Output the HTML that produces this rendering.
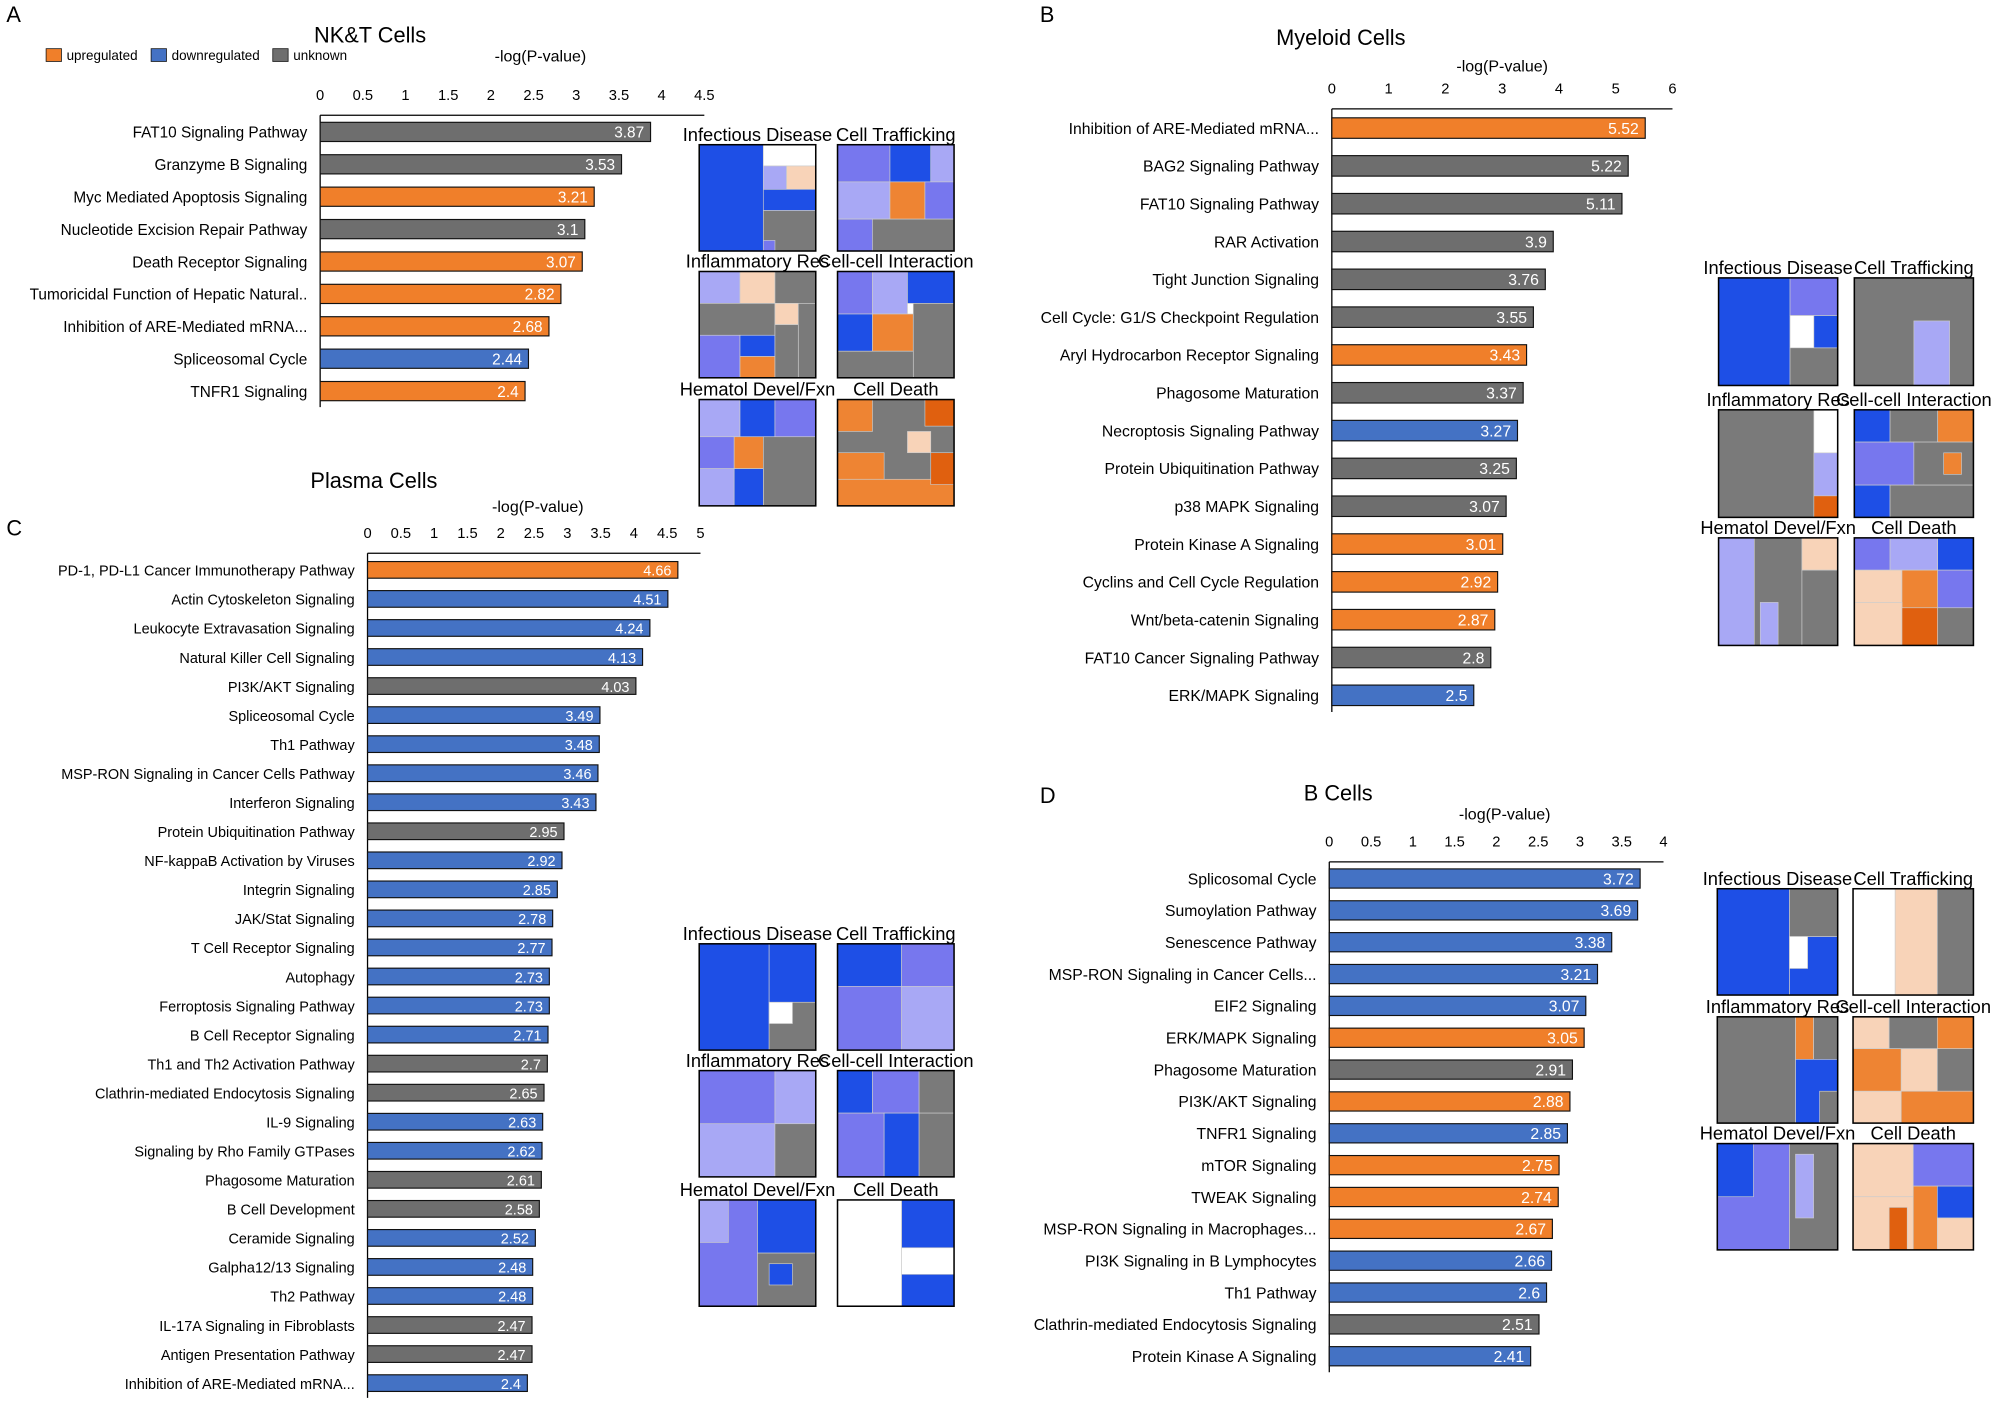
<!DOCTYPE html>
<html><head><meta charset="utf-8"><style>
html,body{margin:0;padding:0;background:#fff;}
svg{display:block;font-family:"Liberation Sans",sans-serif;}
</style></head><body>
<svg id="fig" width="2008" height="1401" viewBox="0 0 1568 1094"></svg>
<script>
// ---------- Data ----------
const aLabels=["FAT10 Signaling Pathway","Granzyme B Signaling","Myc Mediated Apoptosis Signaling","Nucleotide Excision Repair Pathway","Death Receptor Signaling","Tumoricidal Function of Hepatic Natural..","Inhibition of ARE-Mediated mRNA...","Spliceosomal Cycle","TNFR1 Signaling"];
const aValues=[3.87,3.53,3.21,3.1,3.07,2.82,2.68,2.44,2.4];
const aTypes=["n","n","u","n","u","u","u","d","u"];
const aTicks=[0,0.5,1,1.5,2,2.5,3,3.5,4,4.5];

const bLabels=["Inhibition of ARE-Mediated mRNA...","BAG2 Signaling Pathway","FAT10 Signaling Pathway","RAR Activation","Tight Junction Signaling","Cell Cycle: G1/S Checkpoint Regulation","Aryl Hydrocarbon Receptor Signaling","Phagosome Maturation","Necroptosis Signaling Pathway","Protein Ubiquitination Pathway","p38 MAPK Signaling","Protein Kinase A Signaling","Cyclins and Cell Cycle Regulation","Wnt/beta-catenin Signaling","FAT10 Cancer Signaling Pathway","ERK/MAPK Signaling"];
const bValues=[5.52,5.22,5.11,3.9,3.76,3.55,3.43,3.37,3.27,3.25,3.07,3.01,2.92,2.87,2.8,2.5];
const bTypes=["u","n","n","n","n","n","u","n","d","n","n","u","u","u","n","d"];
const bTicks=[0,1,2,3,4,5,6];

const cLabels=["PD-1, PD-L1 Cancer Immunotherapy Pathway","Actin Cytoskeleton Signaling","Leukocyte Extravasation Signaling","Natural Killer Cell Signaling","PI3K/AKT Signaling","Spliceosomal Cycle","Th1 Pathway","MSP-RON Signaling in Cancer Cells Pathway","Interferon Signaling","Protein Ubiquitination Pathway","NF-kappaB Activation by Viruses","Integrin Signaling","JAK/Stat Signaling","T Cell Receptor Signaling","Autophagy","Ferroptosis Signaling Pathway","B Cell Receptor Signaling","Th1 and Th2 Activation Pathway","Clathrin-mediated Endocytosis Signaling","IL-9 Signaling","Signaling by Rho Family GTPases","Phagosome Maturation","B Cell Development","Ceramide Signaling","Galpha12/13 Signaling","Th2 Pathway","IL-17A Signaling in Fibroblasts","Antigen Presentation Pathway","Inhibition of ARE-Mediated mRNA..."];
const cValues=[4.66,4.51,4.24,4.13,4.03,3.49,3.48,3.46,3.43,2.95,2.92,2.85,2.78,2.77,2.73,2.73,2.71,2.7,2.65,2.63,2.62,2.61,2.58,2.52,2.48,2.48,2.47,2.47,2.4];
const cTypes=["u","d","d","d","n","d","d","d","d","n","d","d","d","d","d","d","d","n","n","d","d","n","n","d","d","d","n","n","d"];
const cTicks=[0,0.5,1,1.5,2,2.5,3,3.5,4,4.5,5];

const dLabels=["Splicosomal Cycle","Sumoylation Pathway","Senescence Pathway","MSP-RON Signaling in Cancer Cells...","EIF2 Signaling","ERK/MAPK Signaling","Phagosome Maturation","PI3K/AKT Signaling","TNFR1 Signaling","mTOR Signaling","TWEAK Signaling","MSP-RON Signaling in Macrophages...","PI3K Signaling in B Lymphocytes","Th1 Pathway","Clathrin-mediated Endocytosis Signaling","Protein Kinase A Signaling"];
const dValues=[3.72,3.69,3.38,3.21,3.07,3.05,2.91,2.88,2.85,2.75,2.74,2.67,2.66,2.6,2.51,2.41];
const dTypes=["d","d","d","d","d","u","n","u","d","u","u","u","d","d","n","d"];
const dTicks=[0,0.5,1,1.5,2,2.5,3,3.5,4];

const COL={u:"#F07F2A",d:"#4472C4",n:"#6E6E6E"};
const NS="http://www.w3.org/2000/svg";
const svg=document.getElementById("fig");
function el(tag,attrs,parent){const e=document.createElementNS(NS,tag);for(const k in attrs)e.setAttribute(k,attrs[k]);(parent||svg).appendChild(e);return e;}
function txt(x,y,s,size,anchor,fill,parent){const t=el("text",{x:x,y:y,"font-size":size,"text-anchor":anchor||"start",fill:fill||"#000"},parent);t.textContent=s;return t;}

function chart(cfg){
  const g=el("g",{});
  
  
  const xs=v=>cfg.x0+(v/cfg.max)*(cfg.x1-cfg.x0);
  const t=txt(cfg.titleX,cfg.titleY,cfg.title,17,"middle","#000",g);
  
  
  const at=txt(cfg.axX,cfg.axY,"-log(P-value)",12.5,"middle","#000",g);
  
  
  cfg.ticks.forEach(v=>{const tl=txt(xs(v),cfg.tickY,String(v),11.5,"middle","#000",g);
    
    });
  const last=cfg.y0+cfg.step*(cfg.values.length-1);
  const axl=el("line",{x1:cfg.x0,y1:cfg.tickY+12,x2:cfg.x1,y2:cfg.tickY+12,stroke:"#000","stroke-width":1},g);
  
  
  const ay=el("line",{x1:cfg.x0,y1:cfg.tickY+12,x2:cfg.x0,y2:last+cfg.bh/2+5,stroke:"#000","stroke-width":1},g);
  
  
  cfg.values.forEach((v,i)=>{
    const cy=cfg.y0+cfg.step*i;
    const r=el("rect",{x:cfg.x0,y:cy-cfg.bh/2,width:xs(v)-cfg.x0,height:cfg.bh,fill:COL[cfg.types[i]],stroke:"#111","stroke-width":0.9},g);
    
    
    const vl=txt(xs(v)-5,cy+4.5,String(v),cfg.fs,"end","#fff",g);
    
    
    const lb=txt(cfg.x0-10,cy+4.5,cfg.labels[i],cfg.fs,"end","#000",g);
    
    
  });
}
chart({name:"chart-nkt",title:"NK&T Cells",titleX:289,titleY:33,axX:422,axY:48,labels:aLabels,values:aValues,types:aTypes,ticks:aTicks,max:4.5,x0:250,x1:550,tickY:78,y0:103,step:25.3,bh:15,fs:12});
chart({name:"chart-myeloid",title:"Myeloid Cells",titleX:1047,titleY:35,axX:1173,axY:56,labels:bLabels,values:bValues,types:bTypes,ticks:bTicks,max:6,x0:1040,x1:1306,tickY:73,y0:100,step:29.53,bh:16,fs:12.3});
chart({name:"chart-plasma",title:"Plasma Cells",titleX:292,titleY:381,axX:420,axY:400,labels:cLabels,values:cValues,types:cTypes,ticks:cTicks,max:5,x0:287,x1:547,tickY:420,y0:445,step:22.68,bh:13,fs:11.3});
chart({name:"chart-bcells",title:"B Cells",titleX:1045,titleY:625,axX:1175,axY:640,labels:dLabels,values:dValues,types:dTypes,ticks:dTicks,max:4,x0:1038,x1:1299,tickY:661,y0:686,step:24.87,bh:15,fs:12.3});

// panel letters
[["A",5,17],["B",812,17],["C",5,418],["D",812,627]].forEach(p=>{const t=txt(p[1],p[2],p[0],17);
  
  });

// legend
const leg=el("g",{});
[["upregulated","u",36],["downregulated","d",118],["unknown","n",213]].forEach(l=>{
  const r=el("rect",{x:l[2],y:38,width:12,height:10,fill:COL[l[1]],stroke:"#111","stroke-width":0.6},leg);
  
  const t=txt(l[2]+16,47,l[0],10.5,"start","#000",leg);
  
});

// treemaps (decorative)
const BL="#1E4FE6",LB="#A8A8F5",MB="#7777EE",GR="#7A7A7A",OR="#EE8433",PE="#F8D3B8",WH="#FFFFFF",DO="#E0600F";
const maps={
 a1:[[0,0,.55,1,BL],[.55,0,.45,.2,WH],[.55,.2,.2,.22,LB],[.75,.2,.25,.22,PE],[.55,.42,.45,.2,BL],[.55,.62,.45,.38,GR],[.55,.9,.1,.1,MB]],
 a2:[[0,0,.45,.35,MB],[.45,0,.35,.35,BL],[.8,0,.2,.35,LB],[0,.35,.45,.35,LB],[.45,.35,.3,.35,OR],[.75,.35,.25,.35,MB],[0,.7,1,.3,GR],[0,.7,.3,.3,MB]],
 a3:[[0,0,.35,.3,LB],[.35,0,.3,.3,PE],[.65,0,.35,.3,GR],[0,.3,.65,.3,GR],[.65,.3,.2,.2,PE],[.85,.3,.15,.7,GR],[0,.6,.35,.4,MB],[.35,.6,.3,.2,BL],[.35,.8,.3,.2,OR],[.65,.5,.2,.5,GR]],
 a4:[[0,0,.3,.4,MB],[.3,0,.3,.4,LB],[.6,0,.4,.3,BL],[0,.4,.3,.35,BL],[.3,.4,.35,.35,OR],[.65,.3,.35,.7,GR],[0,.75,.65,.25,GR]],
 a5:[[0,0,.35,.35,LB],[.35,0,.3,.35,BL],[.65,0,.35,.35,MB],[0,.35,.3,.3,MB],[.3,.35,.25,.3,OR],[.55,.35,.45,.65,GR],[0,.65,.3,.35,LB],[.3,.65,.25,.35,BL]],
 a6:[[0,0,1,1,GR],[0,0,.3,.3,OR],[.75,0,.25,.25,DO],[0,.5,.4,.25,OR],[0,.75,1,.25,OR],[.6,.3,.2,.2,PE],[.8,.5,.2,.3,DO]],
 b1:[[0,0,.6,1,BL],[.6,0,.4,.35,MB],[.6,.35,.2,.3,WH],[.6,.65,.4,.35,GR],[.8,.35,.2,.3,BL]],
 b2:[[0,0,1,1,GR],[.5,.4,.3,.6,LB]],
 b3:[[0,0,.8,1,GR],[.8,.4,.2,.4,LB],[.8,.8,.2,.2,DO]],
 b4:[[0,0,.3,.3,BL],[.3,0,.4,.3,GR],[.7,0,.3,.3,OR],[0,.3,.5,.4,MB],[.5,.3,.5,.4,GR],[0,.7,.3,.3,BL],[.3,.7,.7,.3,GR],[.75,.4,.15,.2,OR]],
 b5:[[0,0,.7,1,GR],[0,0,.3,1,LB],[.7,0,.3,.3,PE],[.7,.3,.3,.7,GR],[.35,.6,.15,.4,LB]],
 b6:[[0,0,.3,.3,MB],[.3,0,.4,.3,LB],[.7,0,.3,.3,BL],[0,.3,.4,.3,PE],[.4,.3,.3,.35,OR],[.7,.3,.3,.35,MB],[0,.6,.4,.4,PE],[.4,.65,.3,.35,DO],[.7,.65,.3,.35,GR]],
 c1:[[0,0,.6,1,BL],[.6,0,.4,.55,BL],[.6,.55,.4,.45,GR],[.6,.55,.2,.2,WH]],
 c2:[[0,0,.55,.4,BL],[.55,0,.45,.4,MB],[0,.4,.55,.6,MB],[.55,.4,.45,.6,LB]],
 c3:[[0,0,.65,.5,MB],[.65,0,.35,.5,LB],[0,.5,.65,.5,LB],[.65,.5,.35,.5,GR]],
 c4:[[0,0,.3,.4,BL],[.3,0,.4,.4,MB],[.7,0,.3,.4,GR],[0,.4,.4,.6,MB],[.4,.4,.3,.6,BL],[.7,.4,.3,.6,GR]],
 c5:[[0,0,.5,1,MB],[0,0,.25,.4,LB],[.5,0,.5,.5,BL],[.5,.5,.5,.5,GR],[.6,.6,.2,.2,BL]],
 c6:[[0,0,.55,1,WH],[.55,0,.45,.45,BL],[.55,.45,.45,.25,WH],[.55,.7,.45,.3,BL]],
 d1:[[0,0,.6,1,BL],[.6,0,.4,.45,GR],[.6,.45,.4,.55,BL],[.6,.45,.15,.3,WH]],
 d2:[[0,0,.35,1,WH],[.35,0,.35,1,PE],[.7,0,.3,1,GR]],
 d3:[[0,0,.65,1,GR],[.65,0,.15,.4,OR],[.8,0,.2,.4,GR],[.65,.4,.35,.6,BL],[.85,.7,.15,.3,GR]],
 d4:[[0,0,.3,.3,PE],[.3,0,.4,.3,GR],[.7,0,.3,.3,OR],[0,.3,.4,.4,OR],[.4,.3,.3,.4,PE],[.7,.3,.3,.4,GR],[0,.7,.4,.3,PE],[.4,.7,.6,.3,OR]],
 d5:[[0,0,.6,1,MB],[0,0,.3,.5,BL],[.6,0,.4,1,GR],[.65,.1,.15,.6,LB]],
 d6:[[0,0,.5,.5,PE],[.5,0,.5,.4,MB],[0,.5,.5,.5,PE],[.5,.4,.2,.6,OR],[.7,.4,.3,.3,BL],[.7,.7,.3,.3,PE],[.3,.6,.15,.4,DO]]
};
const titles=["Infectious Disease","Cell Trafficking","Inflammatory Res","Cell-cell Interaction","Hematol Devel/Fxn","Cell Death"];
function grid(prefix,xs,ys,w,h,name){
  const g=el("g",{});
  for(let i=0;i<6;i++){
    const x=xs[i%2],y=ys[Math.floor(i/2)];
    const t=txt(x+w/2,y-3,titles[i],14.3,"middle","#000",g);
    
    maps[prefix+(i+1)].forEach(c=>{
      const r=el("rect",{x:x+c[0]*w,y:y+c[1]*h,width:c[2]*w,height:c[3]*h,fill:c[4],stroke:"#ccc","stroke-width":0.5},g);
      
    });
    const b=el("rect",{x:x,y:y,width:w,height:h,fill:"none",stroke:"#000","stroke-width":1.2},g);
    
  }
}
grid("a",[546,654],[113,212,312],91,83,"treemaps-nkt");
grid("b",[1342,1448],[217,320,420],93,84,"treemaps-myeloid");
grid("c",[546,654],[737,836,937],91,83,"treemaps-plasma");
grid("d",[1341,1447],[694,794,893],94,83,"treemaps-bcells");
</script>
</body></html>
